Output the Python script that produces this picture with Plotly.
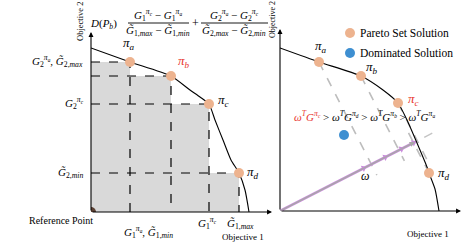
import plotly.graph_objects as go
import numpy as np

W, H = 466, 244

# ---------------- data ----------------
labels = ["a", "b", "c", "d"]
# left panel (objective 1, objective 2)
g1_left = [39, 80, 118, 148]
g2_left = [150, 136, 108, 39]
curve_x_left = [0, 39, 80, 99, 109, 118, 124, 132, 140, 148, 154, 158]
curve_y_left = [164, 150, 136, 122, 115, 108, 92, 72, 52, 39, 22, 0]
# right panel
g1_right = [39, 81, 118, 149]
g2_right = [149, 135, 108, 38]
curve_x_right = [0, 39, 81, 103, 118, 127, 137, 147, 149, 155, 159]
curve_y_right = [163, 149, 135, 121, 108, 91, 68, 44, 38, 22, 0]
dominated_x = [64]
dominated_y = [76]
omega = [135, 69]
legend_names = ["Pareto Set Solution", "Dominated Solution"]

FONT = "Liberation Serif"
PARETO = "#EDB38F"
BLUE = "#3E8FD1"
RED = "#E8312A"
GRAY_FILL = "#D9D9D9"
PURPLE = "#C98BDB"

fig = go.Figure()

# ---------- left panel ----------
sx = [0, 0]
sy = [0, g2_left[0]]
for i, (x, y) in enumerate(zip(g1_left, g2_left)):
    sx += [x]
    sy += [y]
    if i + 1 < len(g1_left):
        sx += [x]
        sy += [g2_left[i + 1]]
sx += [g1_left[-1], 0]
sy += [0, 0]
fig.add_trace(go.Scatter(x=sx, y=sy, fill="toself", fillcolor=GRAY_FILL,
                         line=dict(width=0), mode="lines", hoverinfo="skip",
                         xaxis="x", yaxis="y", showlegend=False))
for x, y in zip(g1_left, g2_left):
    fig.add_trace(go.Scatter(x=[0, x, x], y=[y, y, 0], mode="lines",
                             line=dict(color="black", width=1.2, dash="dash"),
                             xaxis="x", yaxis="y", showlegend=False, hoverinfo="skip"))
fig.add_trace(go.Scatter(x=curve_x_left, y=curve_y_left, mode="lines",
                         line=dict(color="black", width=1.1, shape="spline", smoothing=0.6),
                         xaxis="x", yaxis="y", showlegend=False))
fig.add_trace(go.Scatter(x=g1_left, y=g2_left, mode="markers",
                         marker=dict(color=PARETO, size=10),
                         xaxis="x", yaxis="y", showlegend=False))
fig.add_trace(go.Scatter(x=[0], y=[0], mode="markers",
                         marker=dict(color="#5B4134", size=10),
                         xaxis="x", yaxis="y", showlegend=False))

# ---------- right panel ----------
wx, wy = omega
wn = wx * wx + wy * wy
for i, (x, y) in enumerate(zip(g1_right, g2_right)):
    t = (x * wx + y * wy) / wn
    fx, fy = t * wx, t * wy
    ext = 24 if labels[i] == "c" else 12
    dx, dy = fx - x, fy - y
    d = np.hypot(dx, dy)
    ex, ey = fx + dx / d * ext, fy + dy / d * ext
    fig.add_trace(go.Scatter(x=[x, ex], y=[y, ey], mode="lines",
                             line=dict(color="#BDBDBD", width=1.6, dash="dash"),
                             xaxis="x2", yaxis="y2", showlegend=False))
fig.add_trace(go.Scatter(x=[0, wx * 1.17], y=[0, wy * 1.17], mode="lines",
                         line=dict(color="#C4C4C4", width=1.4, dash="dash"),
                         xaxis="x2", yaxis="y2", showlegend=False))
fig.add_trace(go.Scatter(x=[0, wx], y=[0, wy], mode="lines",
                         line=dict(color=PURPLE, width=2.6),
                         xaxis="x2", yaxis="y2", showlegend=False))
fig.add_trace(go.Scatter(x=[0, wx], y=[0, wy], mode="lines",
                         line=dict(color="#A8A8A8", width=1),
                         xaxis="x2", yaxis="y2", showlegend=False))
ang = -np.degrees(np.arctan2(wy, wx))
ts = [0.62, 0.78, 0.9, 0.99]
fig.add_trace(go.Scatter(x=[wx * t for t in ts], y=[wy * t for t in ts], mode="markers",
                         marker=dict(symbol="triangle-right", size=6, color=PURPLE, angle=ang),
                         xaxis="x2", yaxis="y2", showlegend=False))
fig.add_trace(go.Scatter(x=curve_x_right, y=curve_y_right, mode="lines",
                         line=dict(color="black", width=1.1, shape="spline", smoothing=0.6),
                         xaxis="x2", yaxis="y2", showlegend=False))
fig.add_trace(go.Scatter(x=g1_right, y=g2_right, mode="markers",
                         marker=dict(color=PARETO, size=10),
                         xaxis="x2", yaxis="y2", showlegend=False))
fig.add_trace(go.Scatter(x=dominated_x, y=dominated_y, mode="markers",
                         marker=dict(color=BLUE, size=10),
                         xaxis="x2", yaxis="y2", showlegend=False))
# legend markers on a full-page helper axis (pixel units)
fig.add_trace(go.Scatter(x=[350, 350], y=[33, 53], mode="markers",
                         marker=dict(color=[PARETO, BLUE], size=10),
                         xaxis="x3", yaxis="y3", showlegend=False))

# ---------- layout ----------
def dom_x(a, b):
    return [a / W, b / W]

def dom_y(top, bottom):
    return [1 - bottom / H, 1 - top / H]

ax_common = dict(visible=False, showgrid=False, zeroline=False, fixedrange=True)
fig.update_layout(
    width=W, height=H, margin=dict(l=0, r=0, t=0, b=0),
    paper_bgcolor="white", plot_bgcolor="rgba(0,0,0,0)",
    xaxis=dict(domain=dom_x(91, 272), range=[0, 181], **ax_common),
    yaxis=dict(domain=dom_y(32, 212), range=[0, 180], **ax_common),
    xaxis2=dict(domain=dom_x(280, 461), range=[0, 181], anchor="y2", **ax_common),
    yaxis2=dict(domain=dom_y(29, 211), range=[0, 182], anchor="x2", **ax_common),
    xaxis3=dict(domain=[0, 1], range=[0, W], anchor="y3", **ax_common),
    yaxis3=dict(domain=[0, 1], range=[H, 0], anchor="x3", **ax_common),
    showlegend=False,
)

# fraction bars
shapes = []
for x0, x1 in [(128, 189), (201, 268)]:
    shapes.append(dict(type="line", xref="paper", yref="paper",
                       x0=x0 / W, x1=x1 / W, y0=1 - 23 / H, y1=1 - 23 / H,
                       line=dict(color="black", width=0.9)))
fig.update_layout(shapes=shapes)

ann = []

def arrow(x0, y0, x1, y1, xr, yr, color="black", w=1.1):
    ann.append(dict(x=x1, y=y1, ax=x0, ay=y0, xref=xr, yref=yr, axref=xr, ayref=yr,
                    showarrow=True, arrowhead=2, arrowsize=0.9, arrowwidth=w,
                    arrowcolor=color, text=""))

arrow(0, 0, 181, 0, "x", "y")
arrow(0, 0, 0, 180, "x", "y")
arrow(0, 0, 181, 0, "x2", "y2")
arrow(0, 0, 0, 182, "x2", "y2")
arrow(0, 0, wx, wy, "x2", "y2", color="#A8A8A8", w=1.2)

def txt(x, y, s, size=11, color="black", angle=0, xanchor="center"):
    ann.append(dict(x=x / W, y=1 - y / H, xref="paper", yref="paper", text=s,
                    showarrow=False, xanchor=xanchor, yanchor="middle", textangle=angle,
                    font=dict(family=FONT, size=size, color=color)))

Gt = "<i>G\u0303</i>"
G = "<i>G</i>"
def pi(s):
    return "<i>π</i><sub><i>%s</i></sub>" % s

# left panel text
txt(80, 22, "Objective 2", 8.5, angle=-90)
txt(103, 24, "<i>D</i>(<i>P<sub>b</sub></i>)", 11)
txt(158, 15, G + "<sub>1</sub><sup><i>π<sub>c</sub></i></sup> − " + G + "<sub>1</sub><sup><i>π<sub>a</sub></i></sup>", 11)
txt(158, 31, Gt + "<sub>1,<i>max</i></sub> − " + Gt + "<sub>1,<i>min</i></sub>", 11)
txt(195, 23, "+", 12)
txt(234, 15, G + "<sub>2</sub><sup><i>π<sub>a</sub></i></sup> − " + G + "<sub>2</sub><sup><i>π<sub>c</sub></i></sup>", 11)
txt(234, 31, Gt + "<sub>2,<i>max</i></sub> − " + Gt + "<sub>2,<i>min</i></sub>", 11)
txt(57, 61, G + "<sub>2</sub><sup><i>π<sub>a</sub></i></sup>, " + Gt + "<sub>2,<i>max</i></sub>", 11)
txt(74, 103, G + "<sub>2</sub><sup><i>π<sub>c</sub></i></sup>", 11)
txt(70, 173, Gt + "<sub>2,<i>min</i></sub>", 11)
txt(61, 220, "Reference Point", 10)
txt(148, 232, G + "<sub>1</sub><sup><i>π<sub>a</sub></i></sup>, " + Gt + "<sub>1,<i>min</i></sub>", 11)
txt(207, 223, G + "<sub>1</sub><sup><i>π<sub>c</sub></i></sup>", 11)
txt(240, 224, Gt + "<sub>1,<i>max</i></sub>", 11)
txt(243, 237, "Objective 1", 9)
txt(129, 44, pi("a"), 13)
txt(184, 62, pi("b"), 13, color=RED)
txt(223, 101, pi("c"), 13)
txt(253, 172, pi("d"), 13)

# right panel text
txt(273, 20, "Objective 2", 8, angle=-90)
txt(358, 33, legend_names[0], 11.5, xanchor="left")
txt(358, 53, legend_names[1], 11.5, xanchor="left")
txt(321, 46, pi("a"), 13)
txt(372, 67, pi("b"), 13)
txt(413, 99, pi("c"), 13, color=RED)
txt(444, 173, pi("d"), 13)
ineq = ("<span style='color:%s'><i>ω<sup>T</sup>G<sup>π<sub>c</sub></sup></i></span>" % RED
        + " > <i>ω<sup>T</sup>G<sup>π<sub>d</sub></sup></i> > <i>ω<sup>T</sup>G<sup>π<sub>b</sub></sup></i>"
        + " > <i>ω<sup>T</sup>G<sup>π<sub>a</sub></sup></i>")
txt(364, 116, ineq, 11)
txt(365, 176, "<i>ω</i>", 12)
txt(428, 234, "Objective 1", 9)

fig.update_layout(annotations=ann)

fig.write_html("out.html", config={"displayModeBar": False},
               post_script="document.body.style.margin='0';")
